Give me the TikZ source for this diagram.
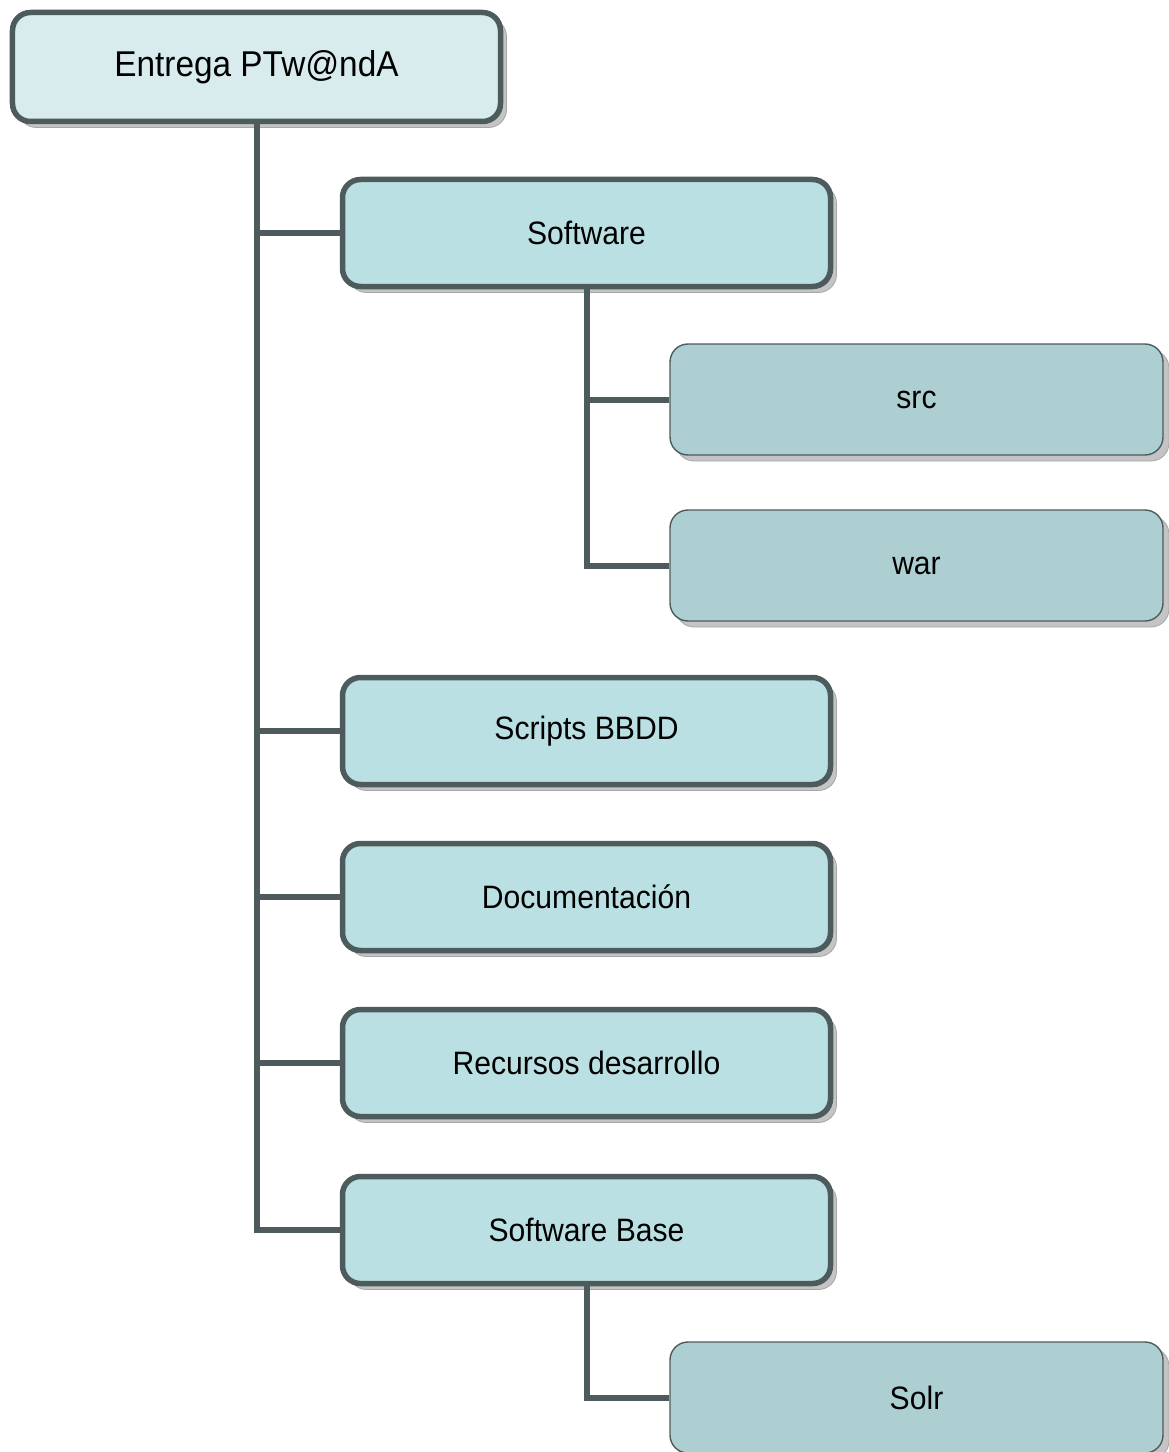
\documentclass[tikz,border=0pt]{standalone}
\usepackage{fontspec}
\setmainfont{Liberation Sans}[FakeStretch=0.93]
\usetikzlibrary{shadows}
\definecolor{bordc}{HTML}{4E5B5C}
\definecolor{rootfill}{HTML}{D8ECEE}
\definecolor{lonefill}{HTML}{BAE0E3}
\definecolor{ltwofill}{HTML}{AECFD2}
\definecolor{shadc}{HTML}{C4C4C4}
\begin{document}
\begin{tikzpicture}[x=1bp,y=-1bp,
  shad/.style={drop shadow={shadow xshift=6bp,shadow yshift=-6bp,fill=shadc,draw=gray!70,line width=0.8bp,opacity=1}},
  rootbox/.style={shad,draw=bordc,line width=5.5bp,fill=rootfill,rounded corners=18bp,
    minimum width=488bp,minimum height=109bp,font=\fontsize{36}{40}\selectfont,inner sep=0pt},
  lonebox/.style={shad,draw=bordc,line width=5.5bp,fill=lonefill,rounded corners=18bp,
    minimum width=488bp,minimum height=107bp,font=\fontsize{32.5}{36}\selectfont,inner sep=0pt},
  ltwobox/.style={shad,draw=bordc,line width=1.4bp,fill=ltwofill,rounded corners=18bp,
    minimum width=493bp,minimum height=111bp,font=\fontsize{32.5}{36}\selectfont,inner sep=0pt},
  conn/.style={draw=bordc,line width=6bp}]
\useasboundingbox (0,0) rectangle (1168,1452);
\node[rootbox] (root) at (256.5,67) {Entrega PTw@ndA};
\node[lonebox] (sw) at (586.5,233) {Software};
\node[ltwobox] (src) at (916.5,399.5) {src};
\node[ltwobox] (war) at (916.5,565.5) {war};
\node[lonebox] (bbdd) at (586.5,731) {Scripts BBDD};
\node[lonebox] (doc) at (586.5,897) {Documentación};
\node[lonebox] (rec) at (586.5,1063) {Recursos desarrollo};
\node[lonebox] (swb) at (586.5,1230) {Software Base};
\node[ltwobox] (solr) at (916.5,1397.5) {Solr};
\draw[conn] (root.south) |- (swb.west);
\draw[conn] (root.south) |- (sw.west);
\draw[conn] (root.south) |- (bbdd.west);
\draw[conn] (root.south) |- (doc.west);
\draw[conn] (root.south) |- (rec.west);
\draw[conn] (sw.south) |- (war.west);
\draw[conn] (sw.south) |- (src.west);
\draw[conn] (swb.south) |- (solr.west);
\end{tikzpicture}
\end{document}
